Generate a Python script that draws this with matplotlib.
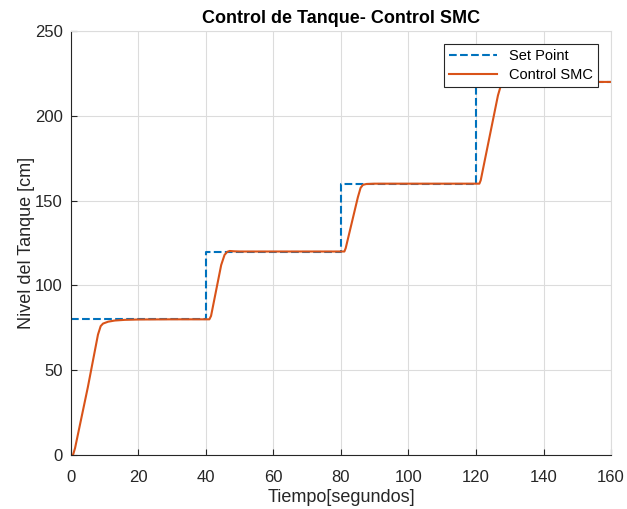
import matplotlib.pyplot as plt
import numpy as np

# Set point (step changes)
sp_t = [0, 40, 40, 80, 80, 120, 120, 160]
sp_y = [80, 80, 120, 120, 160, 160, 220, 220]

# SMC response
resp_t = [0, 0.6, 1.2, 5, 8.0, 8.8, 9.5, 11, 13, 16, 20, 30, 40, 41.0,
          41.5, 44.5, 45.5, 46.3, 47.0, 48.5, 50, 60, 80, 81.0,
          81.4, 85.0, 85.8, 86.5, 87.5, 90, 100, 120, 121.0,
          121.4, 126.5, 127.3, 128.0, 129, 135, 160]
resp_y = [0, 0, 4, 40, 71, 76, 77.5, 78.6, 79.3, 79.7, 79.9, 80, 80, 80,
          82, 112, 118, 119.8, 120.3, 120.1, 120, 120, 120, 120,
          122, 152, 157.5, 159.3, 159.8, 160, 160, 160, 160,
          162, 212, 217.5, 219.6, 220.1, 220, 220]

plt.rcParams['font.family'] = ['Liberation Sans', 'DejaVu Sans']

fig = plt.figure(figsize=(6.27, 5.09), dpi=100)
ax = fig.add_axes([0.1132, 0.1061, 0.8613, 0.8329])

ax.plot(sp_t, sp_y, '--', color='#0072BD', lw=1.5, label='Set Point')
ax.plot(resp_t, resp_y, '-', color='#D95319', lw=1.5, label='Control SMC')

ax.set_xlim(0, 160)
ax.set_ylim(0, 250)
ax.set_xticks(np.arange(0, 161, 20))
ax.set_yticks(np.arange(0, 251, 50))
ax.grid(True, color='#dcdcdc', lw=0.8)
ax.set_axisbelow(True)
ax.tick_params(direction='in', length=4, labelsize=12, colors='#262626')
ax.tick_params(axis='x', pad=10.5)
ax.tick_params(axis='y', pad=6)
for s in ['top', 'right']:
    ax.spines[s].set_color('#dcdcdc')
    ax.spines[s].set_linewidth(0.8)
for s in ['left', 'bottom']:
    ax.spines[s].set_color('#262626')
    ax.spines[s].set_linewidth(0.8)

ax.set_title('Control de Tanque- Control SMC', fontsize=13, fontweight='bold', pad=6)
ax.set_xlabel('Tiempo[segundos]', fontsize=13, color='#262626', labelpad=3)
ax.set_ylabel('Nivel del Tanque [cm]', fontsize=13, color='#262626', labelpad=0)

leg = ax.legend(loc='upper right', fontsize=10.5, fancybox=False, framealpha=1,
                edgecolor='#262626', borderaxespad=0.9, handlelength=3.3,
                borderpad=0.35, labelspacing=0.3)
leg.get_frame().set_linewidth(0.8)

fig.savefig('out.png', dpi=100)
